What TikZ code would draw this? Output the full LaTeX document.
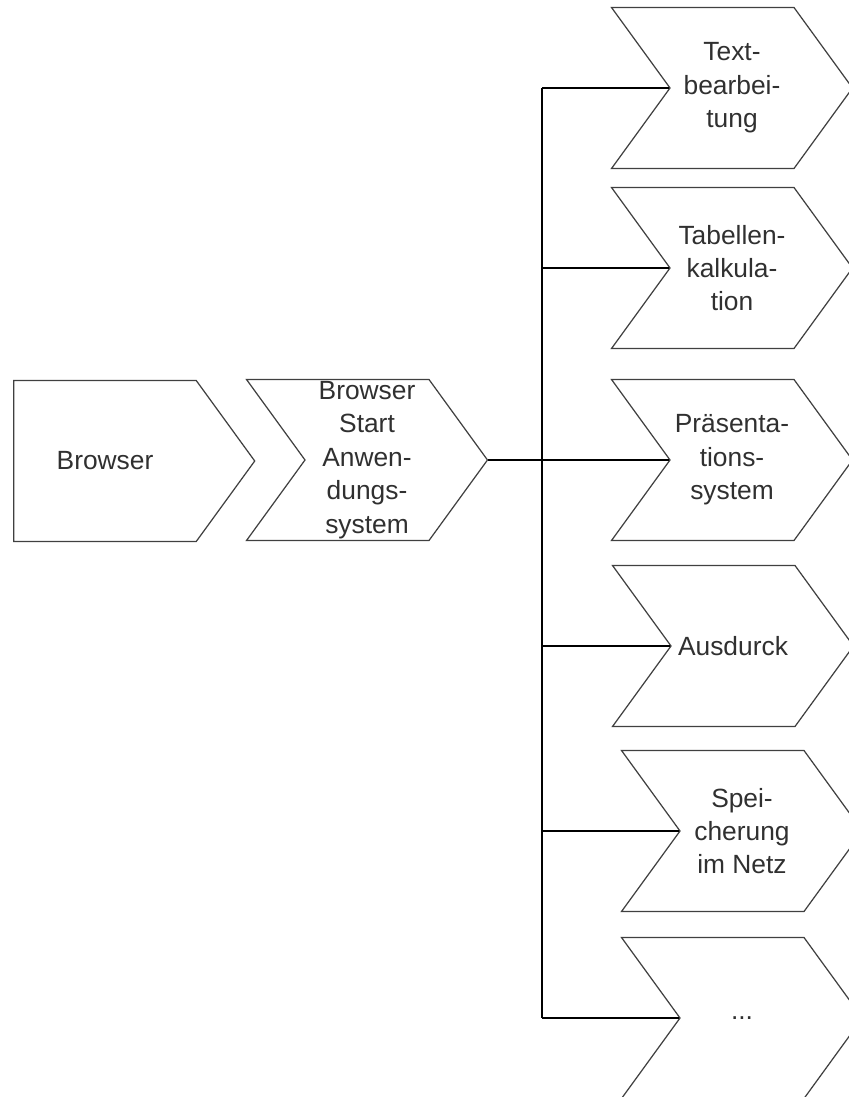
\documentclass[tikz,border=0pt]{standalone}
\usepackage{fontspec}
\setmainfont{Liberation Sans}
\usetikzlibrary{shapes.symbols}
\definecolor{edge}{HTML}{404040}
\definecolor{ink}{HTML}{303030}
\begin{document}
\begin{tikzpicture}[x=0.02cm, y=-0.02cm,
  chevron/.style={draw=edge, line width=0.7pt, shape=signal, signal to=east,
    signal pointer angle=108, minimum width=4.82cm, minimum height=3.22cm,
    inner sep=0pt, align=center, text=ink, font=\fontsize{15}{19}\selectfont},
  notched/.style={chevron, signal from=west},
  link/.style={line width=1.1pt, black}]
\useasboundingbox (0,0) rectangle (848,1097);

% left chain
\node[chevron] (browser) at (105,461) {Browser};
\node[notched] (start) at (367,460) {Browser\\Start\\Anwen-\\dungs-\\system};

% application systems
\node[notched] (text)  at (732,88)   {Text-\\bearbei-\\tung};
\node[notched] (table) at (732,268)  {Tabellen-\\kalkula-\\tion};
\node[notched] (slide) at (732,460)  {Präsenta-\\tions-\\system};
\node[notched] (print) at (733,646)  {Ausdurck};
\node[notched] (store) at (742,831)  {Spei-\\cherung\\im Netz};
\node[notched] (more)  at (742,1018) {...};

% connectors
\coordinate (trunk) at (542,0);
\coordinate (hub) at (556,460);
\draw[link] (start.east) -- (hub);
\draw[link] (text.west -| trunk) -- (more.west -| trunk);
\foreach \app in {text, table, slide, print, store, more} {
  \draw[link] (\app.west -| trunk) -- (\app.west);
}
\end{tikzpicture}
\end{document}
